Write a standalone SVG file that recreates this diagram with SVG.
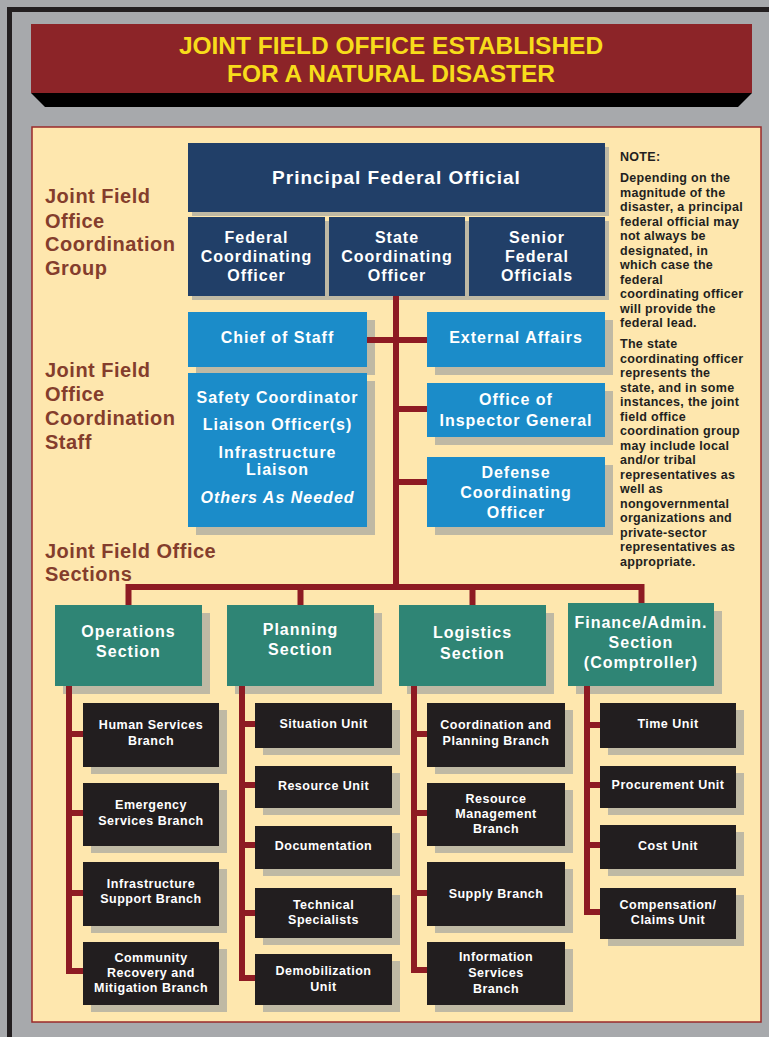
<svg xmlns="http://www.w3.org/2000/svg" width="769" height="1037" viewBox="0 0 769 1037">
<style>
text{font-family:"Liberation Sans",Arial,sans-serif;font-weight:bold;}
.t{fill:#f7dc1b;font-size:24.5px;text-anchor:middle;}
.lbl{fill:#843d2c;font-size:20px;letter-spacing:0.5px;}
.navy{fill:#213f68;}
.blue{fill:#1b8cc9;}
.teal{fill:#2f8575;}
.blk{fill:#221e1f;}
.sh{fill:#bfb9a4;}
.w{fill:#ffffff;text-anchor:middle;}
.w19{font-size:19px;letter-spacing:1px;}
.w16{font-size:16px;letter-spacing:1px;}
.w12{font-size:12.5px;letter-spacing:0.5px;}
.note{fill:#231f20;font-size:12.5px;letter-spacing:0.3px;}
.con{stroke:#8e1b23;stroke-width:6;fill:none;}
</style>
<rect x="0" y="0" width="769" height="1037" fill="#a7a9ac"/>
<path d="M9.5 1037 V9.5 H769" fill="none" stroke="#231f20" stroke-width="5"/>
<g id="banner">
<polygon points="31,93 752,93 738,107 45,107" fill="#000"/>
<rect x="31" y="24" width="721" height="69" fill="#8c2428"/>
<text class="t" x="391" y="54">JOINT FIELD OFFICE ESTABLISHED</text>
<text class="t" x="391" y="82">FOR A NATURAL DISASTER</text>
</g>
<rect x="32" y="127" width="729" height="895" fill="#fee7ae" stroke="#9b2a2a" stroke-width="1.5"/>
<g id="labels">
<text class="lbl" x="45" y="203">Joint Field</text>
<text class="lbl" x="45" y="228">Office</text>
<text class="lbl" x="45" y="251">Coordination</text>
<text class="lbl" x="45" y="275">Group</text>
<text class="lbl" x="45" y="377">Joint Field</text>
<text class="lbl" x="45" y="401">Office</text>
<text class="lbl" x="45" y="425">Coordination</text>
<text class="lbl" x="45" y="449">Staff</text>
<text class="lbl" x="45" y="558">Joint Field Office</text>
<text class="lbl" x="45" y="581">Sections</text>
</g>
<g id="note">
<text class="note" x="620" y="161">NOTE:</text>
<text class="note" x="620" y="182">Depending on the</text>
<text class="note" x="620" y="196.5">magnitude of the</text>
<text class="note" x="620" y="211">disaster, a principal</text>
<text class="note" x="620" y="225.5">federal official may</text>
<text class="note" x="620" y="240">not always be</text>
<text class="note" x="620" y="254.5">designated, in</text>
<text class="note" x="620" y="269">which case the</text>
<text class="note" x="620" y="283.5">federal</text>
<text class="note" x="620" y="298">coordinating officer</text>
<text class="note" x="620" y="312.5">will provide the</text>
<text class="note" x="620" y="327">federal lead.</text>
<text class="note" x="620" y="348">The state</text>
<text class="note" x="620" y="362.5">coordinating officer</text>
<text class="note" x="620" y="377">represents the</text>
<text class="note" x="620" y="391.5">state, and in some</text>
<text class="note" x="620" y="406">instances, the joint</text>
<text class="note" x="620" y="420.5">field office</text>
<text class="note" x="620" y="435">coordination group</text>
<text class="note" x="620" y="449.5">may include local</text>
<text class="note" x="620" y="464">and/or tribal</text>
<text class="note" x="620" y="478.5">representatives as</text>
<text class="note" x="620" y="493">well as</text>
<text class="note" x="620" y="507.5">nongovernmental</text>
<text class="note" x="620" y="522">organizations and</text>
<text class="note" x="620" y="536.5">private-sector</text>
<text class="note" x="620" y="551">representatives as</text>
<text class="note" x="620" y="565.5">appropriate.</text>
</g>
<g id="shadows">
<rect class="sh" x="192" y="147" width="417" height="69"/>
<rect class="sh" x="192" y="221" width="417" height="79"/>
<rect class="sh" x="196" y="320" width="179" height="55"/>
<rect class="sh" x="196" y="381" width="179" height="154"/>
<rect class="sh" x="435" y="320" width="178" height="55"/>
<rect class="sh" x="435" y="391" width="178" height="54"/>
<rect class="sh" x="435" y="465" width="178" height="70"/>
<rect class="sh" x="63" y="613" width="147" height="81"/>
<rect class="sh" x="235" y="613" width="147" height="81"/>
<rect class="sh" x="407" y="613" width="147" height="81"/>
<rect class="sh" x="576" y="611" width="146" height="83"/>
<rect class="sh" x="91" y="710" width="136" height="64"/>
<rect class="sh" x="91" y="790" width="136" height="63"/>
<rect class="sh" x="91" y="869" width="136" height="64"/>
<rect class="sh" x="91" y="949" width="136" height="63"/>
<rect class="sh" x="263" y="710" width="137" height="45"/>
<rect class="sh" x="263" y="773" width="137" height="42"/>
<rect class="sh" x="263" y="833" width="137" height="43"/>
<rect class="sh" x="263" y="895" width="137" height="50"/>
<rect class="sh" x="263" y="961" width="137" height="51"/>
<rect class="sh" x="435" y="710" width="138" height="64"/>
<rect class="sh" x="435" y="790" width="138" height="63"/>
<rect class="sh" x="435" y="869" width="138" height="64"/>
<rect class="sh" x="435" y="949" width="138" height="63"/>
<rect class="sh" x="608" y="710" width="136" height="45"/>
<rect class="sh" x="608" y="773" width="136" height="42"/>
<rect class="sh" x="608" y="832" width="136" height="44"/>
<rect class="sh" x="608" y="895" width="136" height="51"/>
</g>
<g id="connectors">
<path class="con" d="M396 296 V587"/>
<path class="con" d="M367 340 H427"/>
<path class="con" d="M396 409 H427"/>
<path class="con" d="M396 482 H427"/>
<path class="con" d="M128.5 605 V587 H641.5 V605"/>
<path class="con" d="M300.5 587 V605"/>
<path class="con" d="M472.5 587 V605"/>
<path class="con" d="M69 686 V971 H83"/>
<path class="con" d="M69 734 H83 M69 813 H83 M69 893 H83"/>
<path class="con" d="M242 686 V978 H255"/>
<path class="con" d="M242 724 H255 M242 785 H255 M242 845 H255 M242 913 H255"/>
<path class="con" d="M414 686 V970 H427"/>
<path class="con" d="M414 734 H427 M414 813 H427 M414 893 H427"/>
<path class="con" d="M587 686 V912 H600"/>
<path class="con" d="M587 725 H600 M587 785 H600 M587 845 H600"/>
</g>
<g id="pfo"><rect class="navy" x="188" y="143" width="417" height="69"/><text class="w w19" x="396.5" y="184">Principal Federal Official</text></g>
<g id="fco"><rect class="navy" x="188" y="217" width="137" height="79"/><text class="w w16" x="256.5" y="243">Federal</text><text class="w w16" x="256.5" y="262">Coordinating</text><text class="w w16" x="256.5" y="281">Officer</text></g>
<g id="sco"><rect class="navy" x="329" y="217" width="136" height="79"/><text class="w w16" x="397" y="243">State</text><text class="w w16" x="397" y="262">Coordinating</text><text class="w w16" x="397" y="281">Officer</text></g>
<g id="sfo"><rect class="navy" x="469" y="217" width="136" height="79"/><text class="w w16" x="537" y="243">Senior</text><text class="w w16" x="537" y="262">Federal</text><text class="w w16" x="537" y="281">Officials</text></g>
<g id="chief"><rect class="blue" x="188" y="312" width="179" height="55"/><text class="w w16" x="277.5" y="343">Chief of Staff</text></g>
<g id="external"><rect class="blue" x="427" y="312" width="178" height="55"/><text class="w w16" x="516" y="343">External Affairs</text></g>
<g id="safety"><rect class="blue" x="188" y="373" width="179" height="154"/><text class="w w16" x="277.5" y="403">Safety Coordinator</text><text class="w w16" x="277.5" y="430">Liaison Officer(s)</text><text class="w w16" x="277.5" y="458">Infrastructure</text><text class="w w16" x="277.5" y="475">Liaison</text><text class="w w16" x="277.5" y="503" font-style="italic">Others As Needed</text></g>
<g id="oig"><rect class="blue" x="427" y="383" width="178" height="54"/><text class="w w16" x="516" y="405">Office of</text><text class="w w16" x="516" y="426">Inspector General</text></g>
<g id="defense"><rect class="blue" x="427" y="457" width="178" height="70"/><text class="w w16" x="516" y="478">Defense</text><text class="w w16" x="516" y="498">Coordinating</text><text class="w w16" x="516" y="518">Officer</text></g>
<g id="ops"><rect class="teal" x="55" y="605" width="147" height="81"/><text class="w w16" x="128.5" y="637">Operations</text><text class="w w16" x="128.5" y="657">Section</text></g>
<g id="planning"><rect class="teal" x="227" y="605" width="147" height="81"/><text class="w w16" x="300.5" y="635">Planning</text><text class="w w16" x="300.5" y="655">Section</text></g>
<g id="logistics"><rect class="teal" x="399" y="605" width="147" height="81"/><text class="w w16" x="472.5" y="638">Logistics</text><text class="w w16" x="472.5" y="659">Section</text></g>
<g id="finance"><rect class="teal" x="568" y="603" width="146" height="83"/><text class="w w16" x="641" y="628">Finance/Admin.</text><text class="w w16" x="641" y="648">Section</text><text class="w w16" x="641" y="668">(Comptroller)</text></g>
<g id="human"><rect class="blk" x="83" y="703" width="136" height="64"/><text class="w w12" x="151" y="729">Human Services</text><text class="w w12" x="151" y="745">Branch</text></g>
<g id="emergency"><rect class="blk" x="83" y="783" width="136" height="63"/><text class="w w12" x="151" y="809">Emergency</text><text class="w w12" x="151" y="825">Services Branch</text></g>
<g id="infra"><rect class="blk" x="83" y="862" width="136" height="64"/><text class="w w12" x="151" y="888">Infrastructure</text><text class="w w12" x="151" y="903">Support Branch</text></g>
<g id="community"><rect class="blk" x="83" y="942" width="136" height="63"/><text class="w w12" x="151" y="962">Community</text><text class="w w12" x="151" y="977">Recovery and</text><text class="w w12" x="151" y="992">Mitigation Branch</text></g>
<g id="situation"><rect class="blk" x="255" y="703" width="137" height="45"/><text class="w w12" x="323.5" y="728">Situation Unit</text></g>
<g id="resource"><rect class="blk" x="255" y="766" width="137" height="42"/><text class="w w12" x="323.5" y="790">Resource Unit</text></g>
<g id="documentation"><rect class="blk" x="255" y="826" width="137" height="43"/><text class="w w12" x="323.5" y="850">Documentation</text></g>
<g id="technical"><rect class="blk" x="255" y="888" width="137" height="50"/><text class="w w12" x="323.5" y="909">Technical</text><text class="w w12" x="323.5" y="924">Specialists</text></g>
<g id="demob"><rect class="blk" x="255" y="954" width="137" height="51"/><text class="w w12" x="323.5" y="975">Demobilization</text><text class="w w12" x="323.5" y="991">Unit</text></g>
<g id="coordplan"><rect class="blk" x="427" y="703" width="138" height="64"/><text class="w w12" x="496" y="729">Coordination and</text><text class="w w12" x="496" y="745">Planning Branch</text></g>
<g id="resmgmt"><rect class="blk" x="427" y="783" width="138" height="63"/><text class="w w12" x="496" y="803">Resource</text><text class="w w12" x="496" y="818">Management</text><text class="w w12" x="496" y="833">Branch</text></g>
<g id="supply"><rect class="blk" x="427" y="862" width="138" height="64"/><text class="w w12" x="496" y="898">Supply Branch</text></g>
<g id="infoserv"><rect class="blk" x="427" y="942" width="138" height="63"/><text class="w w12" x="496" y="961">Information</text><text class="w w12" x="496" y="977">Services</text><text class="w w12" x="496" y="993">Branch</text></g>
<g id="time"><rect class="blk" x="600" y="703" width="136" height="45"/><text class="w w12" x="668" y="728">Time Unit</text></g>
<g id="procurement"><rect class="blk" x="600" y="766" width="136" height="42"/><text class="w w12" x="668" y="789">Procurement Unit</text></g>
<g id="cost"><rect class="blk" x="600" y="825" width="136" height="44"/><text class="w w12" x="668" y="850">Cost Unit</text></g>
<g id="compensation"><rect class="blk" x="600" y="888" width="136" height="51"/><text class="w w12" x="668" y="909">Compensation/</text><text class="w w12" x="668" y="924">Claims Unit</text></g>
</svg>
